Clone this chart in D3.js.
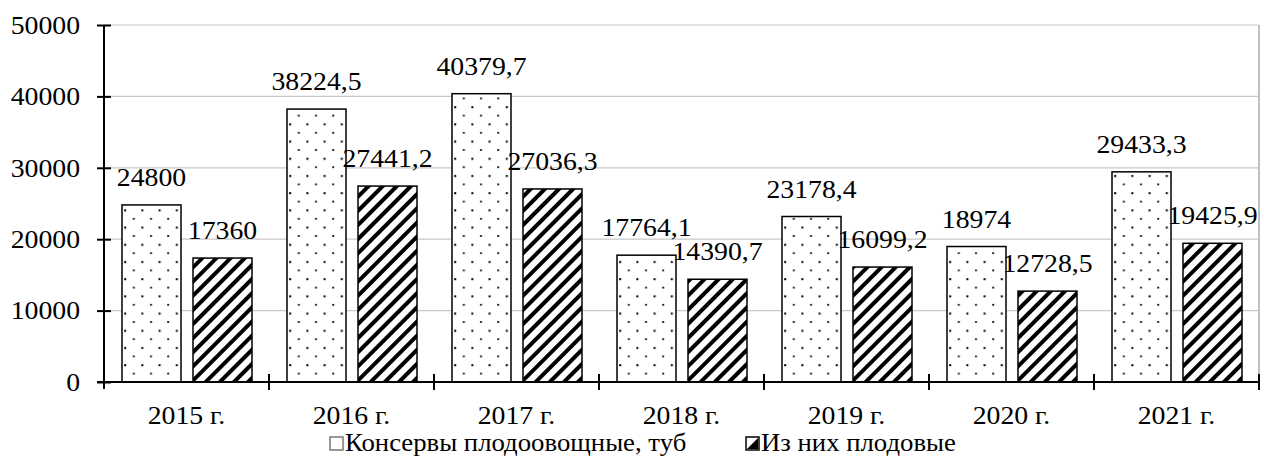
<!DOCTYPE html>
<html>
<head>
<meta charset="utf-8">
<script src="https://cdn.jsdelivr.net/npm/d3@7"></script>
<style>
  body { margin: 0; background: #fff; }
</style>
</head>
<body>
<script>
// data
var years = ["2015 г.", "2016 г.", "2017 г.", "2018 г.", "2019 г.", "2020 г.", "2021 г."];
var totalVals = [24800, 38224.5, 40379.7, 17764.1, 23178.4, 18974, 29433.3];
var fruitVals = [17360, 27441.2, 27036.3, 14390.7, 16099.2, 12728.5, 19425.9];
var seriesNames = ["Консервы плодоовощные, туб", "Из них плодовые"];
var yTicks = [0, 10000, 20000, 30000, 40000, 50000];

var W = 1264, H = 460;
var sx = 1.11; // text is a bit wider than normal in the picture
var plotL = 104, plotR = 1259, plotT = 25, plotB = 382;
var serif = "Liberation Serif";

var svg = d3.select("body").append("svg")
    .attr("width", W)
    .attr("height", H);

function font(sel) {
    sel.style("font-family", serif).style("font-size", "25px").style("fill", "#000");
}

// patterns
var defs = svg.append("defs");
var dots = defs.append("pattern")
    .attr("id", "dots")
    .attr("patternUnits", "userSpaceOnUse")
    .attr("width", 17.2).attr("height", 17.2);
dots.append("rect").attr("width", 17.2).attr("height", 17.2).attr("fill", "#fff");
dots.append("rect").attr("x", 3).attr("y", 3).attr("width", 2).attr("height", 2).attr("fill", "#000");
dots.append("rect").attr("x", 11.6).attr("y", 11.6).attr("width", 2).attr("height", 1.6).attr("fill", "#000");

var hatch = defs.append("pattern")
    .attr("id", "hatch")
    .attr("patternUnits", "userSpaceOnUse")
    .attr("width", 10).attr("height", 10)
    .attr("patternTransform", "rotate(45)");
hatch.append("rect").attr("width", 10).attr("height", 10).attr("fill", "#fff");
hatch.append("rect").attr("width", 4).attr("height", 10).attr("fill", "#000");

var fills = ["url(#dots)", "url(#hatch)"];

// scales
var x = d3.scaleBand().domain(years).range([plotL, plotR]);
var xs = d3.scaleBand().domain([0, 1]).range([18, 148]).paddingInner(12 / 71);
var y = d3.scaleLinear().domain([0, 50000]).range([plotB, plotT]);

// grid
svg.append("g").selectAll("line")
    .data(yTicks.filter(function(d){ return d > 0; }))
    .enter().append("line")
      .attr("x1", plotL).attr("x2", plotR)
      .attr("y1", function(d){ return y(d); })
      .attr("y2", function(d){ return y(d); })
      .attr("stroke", "#c8c8c8")
      .attr("stroke-width", 1.2);

// right border
svg.append("line")
    .attr("x1", plotR).attr("x2", plotR)
    .attr("y1", plotT).attr("y2", plotB)
    .attr("stroke", "#c0c0c0")
    .attr("stroke-width", 2);

// bars
var groups = svg.append("g").selectAll("g")
    .data(years)
    .enter().append("g")
      .attr("transform", function(d){ return "translate(" + x(d) + ",0)"; });

[totalVals, fruitVals].forEach(function(vals, s){
    groups.append("rect")
        .attr("x", xs(s))
        .attr("width", xs.bandwidth())
        .attr("y", function(d, i){ return y(vals[i]); })
        .attr("height", function(d, i){ return plotB - y(vals[i]); })
        .attr("fill", fills[s])
        .attr("stroke", "#000")
        .attr("stroke-width", 1.5);

    groups.append("text")
        .attr("text-anchor", "middle")
        .attr("transform", function(d, i){
            return "translate(" + (xs(s) + xs.bandwidth() / 2) + "," + (y(vals[i]) - 19) + ") scale(" + sx + ",1)";
        })
        .call(font)
        .text(function(d, i){ return String(vals[i]).replace(".", ","); });
});

// y axis
var yAxis = svg.append("g")
    .attr("transform", "translate(" + plotL + ",0)")
    .call(d3.axisLeft(y).tickValues(yTicks).tickFormat(d3.format("d")).tickSizeOuter(0).tickSize(7));
yAxis.select(".domain").remove();
yAxis.selectAll(".tick line")
    .attr("x1", -7).attr("x2", 7)
    .attr("stroke", "#000").attr("stroke-width", 2);
yAxis.selectAll(".tick text")
    .attr("x", -24 / sx)
    .attr("dy", "0.33em")
    .attr("transform", "scale(" + sx + ",1)")
    .call(font);
svg.append("line")
    .attr("x1", plotL).attr("x2", plotL)
    .attr("y1", plotT).attr("y2", plotB + 7)
    .attr("stroke", "#000").attr("stroke-width", 2);

// x axis
var xAxis = svg.append("g")
    .attr("transform", "translate(0," + plotB + ")")
    .call(d3.axisBottom(x).tickSize(0).tickSizeOuter(0));
xAxis.select(".domain").remove();
xAxis.selectAll(".tick text")
    .attr("y", 0)
    .attr("dy", 0)
    .attr("transform", "translate(0,42) scale(" + sx + ",1)")
    .call(font);
svg.append("line")
    .attr("x1", plotL - 7).attr("x2", plotR)
    .attr("y1", plotB).attr("y2", plotB)
    .attr("stroke", "#000").attr("stroke-width", 2);
var bounds = years.map(function(d){ return x(d); }).slice(1).concat([plotR]);
svg.append("g").selectAll("line")
    .data(bounds)
    .enter().append("line")
      .attr("x1", function(d){ return d; }).attr("x2", function(d){ return d; })
      .attr("y1", plotB - 8).attr("y2", plotB + 8)
      .attr("stroke", "#000").attr("stroke-width", 2);

// legend
var legX = [330, 746];
var legend = svg.append("g").selectAll("g")
    .data(seriesNames)
    .enter().append("g")
      .attr("transform", function(d, i){ return "translate(" + legX[i] + ",437)"; });
legend.append("rect")
    .attr("width", 13).attr("height", 13)
    .attr("fill", "#fff")
    .attr("stroke", function(d, i){ return i === 0 ? "#777" : "#000"; })
    .attr("stroke-width", 1.5);
legend.filter(function(d, i){ return i === 1; }).append("path")
    .attr("d", "M1,12 L12,1 L12,12 Z")
    .attr("fill", "#000");
legend.append("text")
    .attr("transform", "translate(15,14) scale(1.07,1)")
    .call(font)
    .text(function(d){ return d; });
</script>
</body>
</html>
